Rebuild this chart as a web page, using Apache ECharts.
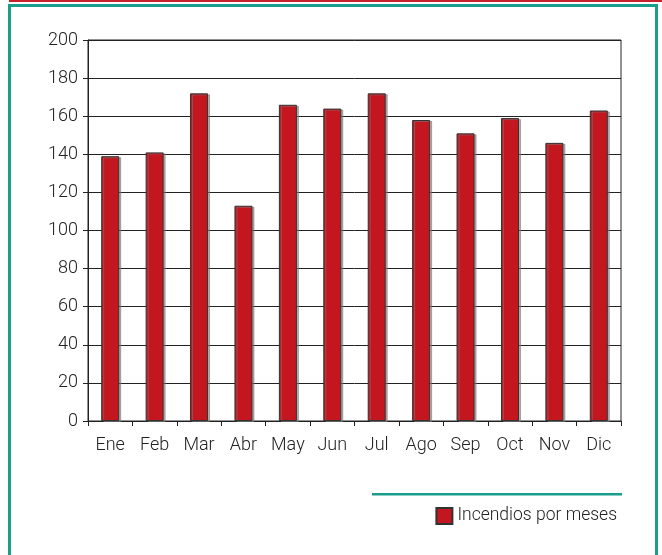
<!DOCTYPE html>
<html>
<head>
<meta charset="utf-8">
<script src="https://cdn.jsdelivr.net/npm/echarts@6/dist/echarts.min.js"></script>
<style>html,body{margin:0;padding:0;background:#fff}#c{width:662px;height:555px}</style>
</head>
<body>
<div id="c"></div>
<script>
var categories = ['Ene','Feb','Mar','Abr','May','Jun','Jul','Ago','Sep','Oct','Nov','Dic'];
var values = [139, 141, 172, 113, 166, 164, 172, 158, 151, 159, 146, 163];
var seriesName = 'Incendios por meses';

var chart = echarts.init(document.getElementById('c'), null, {renderer: 'canvas'});
var font = 'Roboto, "Open Sans", sans-serif';
chart.setOption({
  animation: false,
  backgroundColor: '#fff',
  graphic: [
    {type: 'rect', shape: {x: 9, y: 0, width: 653, height: 2}, style: {fill: '#c8202a'}, silent: true},
    {type: 'rect', shape: {x: 9.5, y: 5.5, width: 647, height: 560}, style: {fill: 'none', stroke: '#1a9e8c', lineWidth: 3}, silent: true},
    {type: 'rect', shape: {x: 372, y: 493, width: 250, height: 2.5}, style: {fill: '#1a9e8c'}, silent: true}
  ],
  legend: {
    data: [seriesName],
    right: 40,
    top: 502,
    itemWidth: 16,
    itemHeight: 16,
    itemGap: 6,
    icon: 'rect',
    textStyle: {fontFamily: font, fontSize: 17.5, fontWeight: 300, color: '#222', padding: [0, 0, 0, 0]}
  },
  grid: {left: 88, top: 40, right: 41, bottom: 134, show: true, borderColor: '#222', borderWidth: 1, containLabel: false},
  xAxis: {
    type: 'category',
    data: categories,
    axisLine: {lineStyle: {color: '#222'}},
    axisTick: {show: true, alignWithLabel: false, length: 5, lineStyle: {color: '#222'}},
    axisLabel: {fontFamily: font, fontSize: 18, fontWeight: 300, color: '#222', margin: 15}
  },
  yAxis: {
    type: 'value',
    min: 0, max: 200, interval: 20,
    axisLine: {show: true, lineStyle: {color: '#222'}},
    axisTick: {show: true, length: 5, lineStyle: {color: '#222'}},
    axisLabel: {fontFamily: font, fontSize: 18, fontWeight: 300, color: '#222', margin: 10},
    splitLine: {show: true, lineStyle: {color: '#222', width: 1}}
  },
  series: [{
    name: seriesName,
    type: 'bar',
    data: values,
    barWidth: 18,
    itemStyle: {color: '#c3161f', borderColor: '#333', borderWidth: 1,
      shadowColor: 'rgba(120,120,120,0.6)', shadowOffsetX: 2, shadowOffsetY: 1, shadowBlur: 0}
  }]
});
</script>
</body>
</html>
